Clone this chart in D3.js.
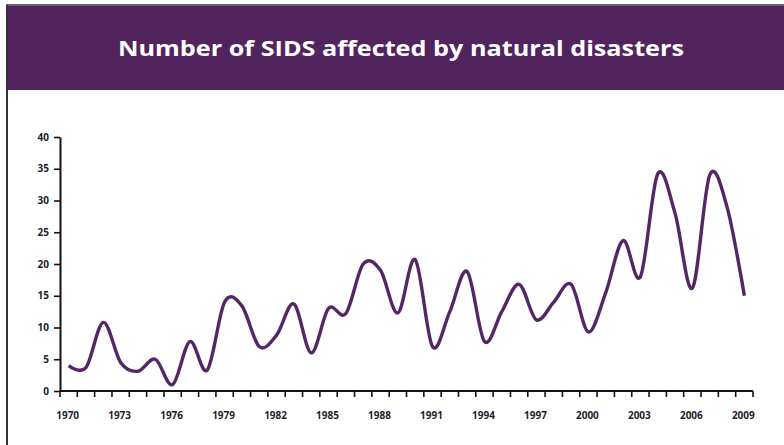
<!DOCTYPE html>
<html>
<head>
<meta charset="utf-8">
<script src="https://cdn.jsdelivr.net/npm/d3@7"></script>
<style>
  html, body { margin: 0; padding: 0; background: #fff; }
  svg { display: block; }
</style>
</head>
<body>
<div id="chart"></div>
<script>
const WIDTH = 784;
const HEIGHT = 445;
const PURPLE = "#52245e";
const LINE_COLOR = "#532766";

// one value per year
const years = d3.range(1970, 2010);
const affected = [
  4, 3.7, 10.8, 4.5, 3.1, 5, 1, 7.8, 3.3, 14,
  13.4, 7, 8.8, 13.7, 6, 13, 12.2, 20, 19, 12.3,
  20.7, 7, 12.5, 18.8, 7.8, 12.5, 16.8, 11.2, 14, 16.8,
  9.3, 15.5, 23.7, 18, 34.2, 28, 16.2, 34, 29, 15
];
const yTicks = [0, 5, 10, 15, 20, 25, 30, 35, 40];
const xLabels = years.filter((y, i) => i % 3 === 0);

const svg = d3.select("#chart")
    .append("svg")
    .attr("width", WIDTH)
    .attr("height", HEIGHT);

// frame and header band
svg.append("rect")
    .attr("x", 8).attr("y", 6)
    .attr("width", WIDTH - 8).attr("height", 84)
    .attr("fill", PURPLE);

svg.append("line")
    .attr("x1", 7).attr("x2", WIDTH).attr("y1", 5).attr("y2", 5)
    .attr("stroke", "#333").attr("stroke-width", 1.5);
svg.append("line")
    .attr("x1", 7).attr("x2", 7).attr("y1", 4.5).attr("y2", HEIGHT)
    .attr("stroke", "#333").attr("stroke-width", 2);

svg.append("text")
    .attr("x", 401)
    .attr("y", 56)
    .attr("text-anchor", "middle")
    .attr("fill", "#fff")
    .attr("font-family", "'Open Sans', sans-serif")
    .attr("font-weight", "bold")
    .attr("font-size", 21)
    .attr("textLength", 566)
    .attr("lengthAdjust", "spacingAndGlyphs")
    .text("Number of SIDS affected by natural disasters");

// scales
const x = d3.scaleBand()
    .domain(years)
    .range([60, 753]);

const y = d3.scaleLinear()
    .domain([0, 40])
    .range([391, 137]);

const axisFont = "'Open Sans', sans-serif";

// y axis
const yAxis = svg.append("g")
    .attr("transform", "translate(60,0)")
    .call(d3.axisLeft(y).tickValues(yTicks).tickSize(6).tickPadding(5).tickSizeOuter(0));

// x axis: ticks on every category boundary, labels every third year
const xAxis = svg.append("g")
    .attr("transform", "translate(0,391)");

xAxis.append("line")
    .attr("x1", 60).attr("x2", 753)
    .attr("stroke", "#111").attr("stroke-width", 2);

xAxis.selectAll(".tick")
    .data(d3.range(0, years.length + 1))
    .enter().append("line")
    .attr("class", "tick")
    .attr("x1", function (d) { return 60 + d * x.step(); })
    .attr("x2", function (d) { return 60 + d * x.step(); })
    .attr("y1", 0).attr("y2", 6)
    .attr("stroke", "#111").attr("stroke-width", 1.6);

xAxis.selectAll(".label")
    .data(xLabels)
    .enter().append("text")
    .attr("class", "label")
    .attr("x", function (d) { return x(d) + x.bandwidth() / 2 - 1; })
    .attr("y", 28)
    .attr("text-anchor", "middle")
    .attr("fill", "#1e1e2a")
    .attr("font-family", axisFont)
    .attr("font-weight", "bold")
    .attr("font-size", 10)
    .text(function (d) { return d; });

yAxis.select(".domain").attr("stroke", "#111").attr("stroke-width", 2);
yAxis.selectAll(".tick line").attr("stroke", "#111").attr("stroke-width", 1.6);
yAxis.selectAll(".tick text")
    .attr("fill", "#1e1e2a")
    .attr("font-family", axisFont)
    .attr("font-weight", "bold")
    .attr("font-size", 10);

// the smoothed series line
const line = d3.line()
    .x(function (d, i) { return x(years[i]) + x.bandwidth() / 2; })
    .y(function (d) { return y(d); })
    .curve(d3.curveCatmullRom.alpha(0));

svg.append("path")
    .datum(affected)
    .attr("d", line)
    .attr("fill", "none")
    .attr("stroke", LINE_COLOR)
    .attr("stroke-width", 3.4)
    .attr("stroke-linejoin", "round");
</script>
</body>
</html>
